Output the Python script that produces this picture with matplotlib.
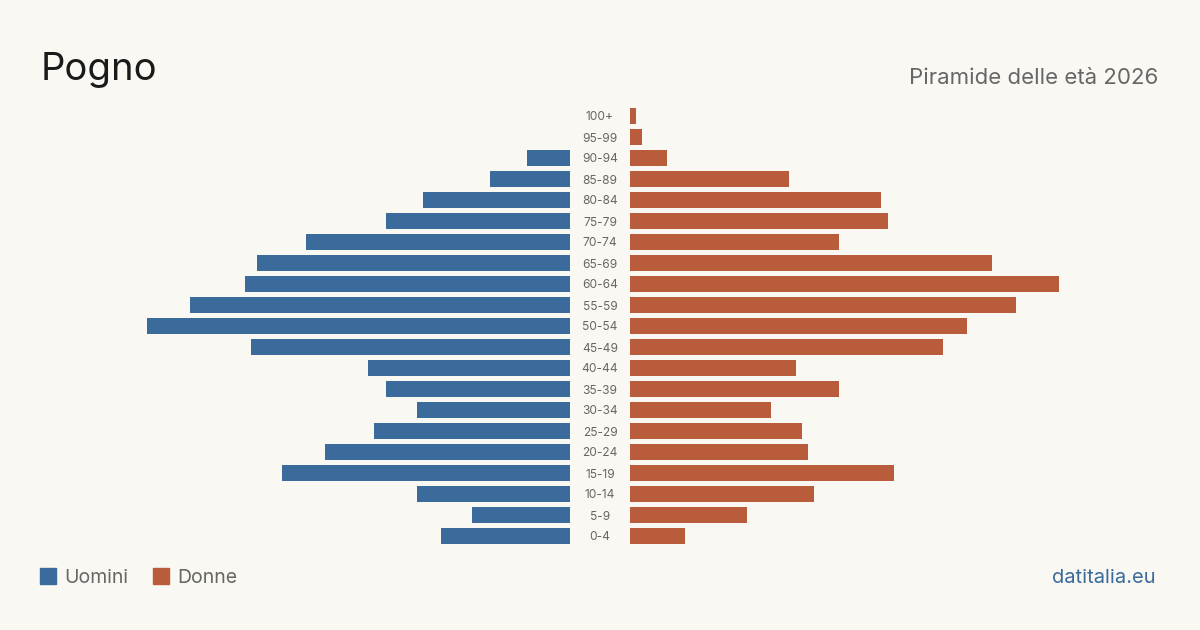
import matplotlib.pyplot as plt
from matplotlib.patches import Rectangle
from matplotlib.transforms import blended_transform_factory

plt.rcParams['font.family'] = ['Inter', 'DejaVu Sans']

age_groups = ['0-4', '5-9', '10-14', '15-19', '20-24', '25-29', '30-34', '35-39',
              '40-44', '45-49', '50-54', '55-59', '60-64', '65-69', '70-74',
              '75-79', '80-84', '85-89', '90-94', '95-99', '100+']
men = [21, 16, 25, 47, 40, 32, 25, 30, 33, 52, 69, 62, 53, 51, 43, 30, 24, 13, 7, 0, 0]
women = [9, 19, 30, 43, 29, 28, 23, 34, 27, 51, 55, 63, 70, 59, 34, 42, 41, 26, 6, 2, 1]

BG = '#faf8f3'
BLUE = '#3a6b9b'
ORANGE = '#b95c3b'
W, H = 1200, 630

fig = plt.figure(figsize=(12, 6.3), dpi=100, facecolor=BG)

# pixel layout of the two halves
top, bottom = 105.5, 546.5
ax_l = fig.add_axes([110 / W, (H - bottom) / H, 460 / W, (bottom - top) / H])
ax_r = fig.add_axes([630 / W, (H - bottom) / H, 460 / W, (bottom - top) / H])

y = list(range(len(age_groups)))
ax_l.barh(y, men, height=0.8, color=BLUE)
ax_r.barh(y, women, height=0.8, color=ORANGE)

xmax = 75
ax_l.set_xlim(xmax, 0)
ax_r.set_xlim(0, xmax)
for ax in (ax_l, ax_r):
    ax.set_ylim(-0.5, len(age_groups) - 0.5)
    ax.set_facecolor('none')
    ax.axis('off')

# age labels in the central gap
trans = blended_transform_factory(fig.transFigure, ax_l.transData)
for i, lab in enumerate(age_groups):
    fig.text(600 / W, i, lab, ha='center', va='center_baseline', fontsize=8.6,
             color='#666666', transform=trans)

# titles
fig.text(41 / W, (H - 80) / H, 'Pogno', fontsize=27.5, color='#1a1a1a',
         ha='left', va='baseline')
fig.text(1158 / W, (H - 84) / H, 'Piramide delle età 2026', fontsize=16,
         color='#666666', ha='right', va='baseline')

# legend
for x0, col, lab in [(40, BLUE, 'Uomini'), (153, ORANGE, 'Donne')]:
    fig.patches.append(Rectangle((x0 / W, (H - 584) / H), 16 / W, 16 / H, color=col,
                                 transform=fig.transFigure, figure=fig))
    fig.text((x0 + 24) / W, (H - 583) / H, lab, fontsize=14, color='#666666',
             ha='left', va='baseline')

fig.text(1156 / W, (H - 583) / H, 'datitalia.eu', fontsize=14.5, color=BLUE,
         ha='right', va='baseline')

fig.savefig('out.png', dpi=100, facecolor=BG)
